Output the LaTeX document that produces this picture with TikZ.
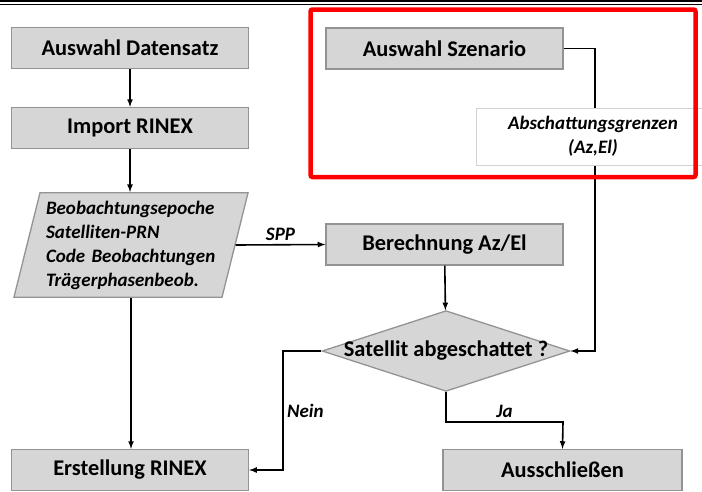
\documentclass[tikz,border=0pt]{standalone}
\usepackage{fontspec}
\setmainfont{Carlito}
\usetikzlibrary{positioning}
\usetikzlibrary{arrows}
\usetikzlibrary{shapes.geometric}
\colorlet{boxC}{gray!32}
\colorlet{edgeC}{gray!85}
\colorlet{markC}{red}

\begin{document}
\begin{tikzpicture}[x=1pt,y=-1pt,
  stepbox/.style={draw=edgeC, line width=1.3pt, fill=boxC, shape=rectangle, minimum height=41pt, minimum width=237pt, font=\fontsize{22.4}{24}\selectfont\bfseries},
  flow/.style={-latex, line width=1.6pt},
  lbl/.style={font=\fontsize{19}{24}\selectfont\bfseries\itshape}]
\useasboundingbox (0,0) rectangle (702,491);
\draw[line width=2.5pt] (0,1) -- (702,1);
\draw[line width=0.8pt] (0,4.5) -- (702,4.5);

\node[stepbox] (datensatz) at (130,48) {Auswahl Datensatz};
\node[stepbox] (import) at (130,128) {Import RINEX};
\node[trapezium, trapezium left angle=76, trapezium right angle=104, draw=edgeC, fill=boxC, line width=1.3pt,
  text width=170pt, align=left, inner xsep=6pt, inner ysep=8pt, lbl]
(beob) at (131,245) {Beobachtungsepoche\\Satelliten-PRN\\Code Beobachtungen\\Trägerphasenbeob.};
\node[stepbox] (szenario) at (444.5,48.5) {Auswahl Szenario};
\node[stepbox] (azel) at (444.5,244.5) {Berechnung Az/El};
\node[diamond, aspect=3.07, draw=edgeC, fill=boxC, line width=1.3pt, inner sep=-2pt, font=\fontsize{22.4}{24}\selectfont\bfseries]
(abgesch) at (446,351) {Satellit abgeschattet ?};
\node[stepbox] (erstellung) at (130,470) {Erstellung RINEX};
\node[stepbox, minimum width=239pt] (ausschl) at (562.5,470) {Ausschließen};

\coordinate (knee) at (595,48.5);
\coordinate (neinknee) at (283,351);
\coordinate (jaknee) at (563,422);

\draw[flow] (datensatz) -- (import);
\draw[flow] (import.south) -- (import.south |- beob.north);
\draw[flow] (beob.south) -- (beob.south |- erstellung.north);
\draw[flow] (beob.east) -- node[above, lbl] {SPP} (azel.west);
\draw[flow] (azel) -- (abgesch);
\draw[flow] (szenario.east) -- (knee) |- (abgesch.east);
\draw[flow] (abgesch.west) -- (neinknee) |- node[pos=0.25, right, lbl] {Nein} (erstellung.east);
\draw[flow] (abgesch.south) |- node[pos=0.75, above, lbl] {Ja} (jaknee) -- (ausschl.north);

\node[draw=gray!35, fill=white, line width=0.5pt, minimum width=234pt, minimum height=57pt, align=center, lbl]
(grenzen) at (593,136.5) {Abschattungsgrenzen\\(Az,El)};
\draw[markC, line width=4.5pt, rounded corners=2pt] (310.5,9.5) rectangle (695.5,177);

\end{tikzpicture}
\end{document}
